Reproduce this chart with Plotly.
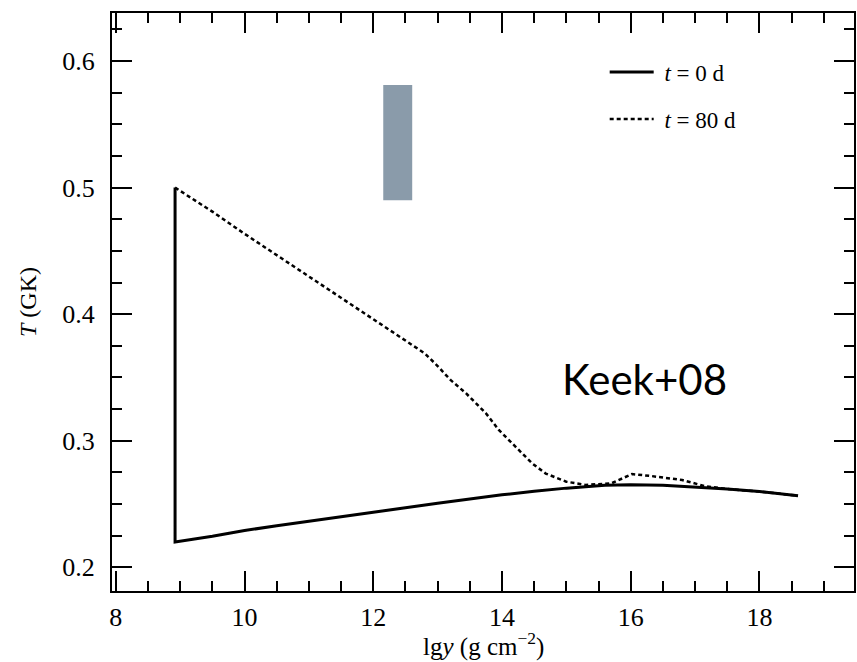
import plotly.graph_objects as go

# t = 0 d profile
x0 = [8.92, 8.92, 9.5, 10.0, 10.5, 11.0, 11.5, 12.0, 12.5, 13.0, 13.5, 14.0, 14.5, 15.0, 15.6, 16.0, 16.5, 17.0, 17.5, 18.0, 18.6]
y0 = [0.500, 0.220, 0.2245, 0.229, 0.2328, 0.2365, 0.2400, 0.2435, 0.2470, 0.2505, 0.2540, 0.2572, 0.2601, 0.2625, 0.2647, 0.2652, 0.2647, 0.2635, 0.2618, 0.2598, 0.2565]

# t = 80 d profile
x80 = [8.92, 9.5, 10.0, 10.5, 11.0, 11.5, 12.0, 12.4, 12.8, 13.0, 13.2, 13.44, 13.75, 13.95, 14.16,
       14.47, 14.68, 15.0, 15.3, 15.7, 16.02, 16.33, 16.8, 17.16, 17.5, 18.0, 18.6]
y80 = [0.500, 0.481, 0.4635, 0.4465, 0.430, 0.413, 0.396, 0.382, 0.369, 0.359, 0.348, 0.3375, 0.3217, 0.3085, 0.298,
       0.282, 0.274, 0.2676, 0.265, 0.2663, 0.2736, 0.272, 0.2689, 0.264, 0.2618, 0.2598, 0.2565]

# shaded box (x range, T range)
box_x = [12.155, 12.605]
box_y = [0.490, 0.581]

labels = ["\u00a0<i>t</i> = 0 d", "\u00a0<i>t</i> = 80 d"]
x_ticks = [8, 10, 12, 14, 16, 18]
y_ticks = [0.2, 0.3, 0.4, 0.5, 0.6]

serif = "Liberation Serif"

fig = go.Figure()
fig.add_trace(go.Scatter(x=x0, y=y0, mode="lines", name=labels[0],
                         line=dict(color="black", width=3), legendgroup="a"))
fig.add_trace(go.Scatter(x=x80, y=y80, mode="lines", name=labels[1],
                         line=dict(color="black", width=2.5, dash="4px,3px"), legendgroup="b"))

fig.add_shape(type="rect", x0=box_x[0], x1=box_x[1], y0=box_y[0], y1=box_y[1],
              xref="x", yref="y", fillcolor="rgb(138,155,170)", line=dict(width=0), layer="above")

fig.add_annotation(x=16.22, y=0.349, xref="x", yref="y", text="Keek+08", showarrow=False,
                   font=dict(family="Lato", size=42, color="black"))

fig.add_annotation(x=0.501, y=-0.093, xref="paper", yref="paper", yanchor="middle",
                   text="lg<i>y</i> (g cm<sup>−2</sup>)", showarrow=False,
                   font=dict(family=serif, size=25, color="black"))

axis_common = dict(
    showline=True, linecolor="black", linewidth=2, mirror="allticks",
    ticks="inside", tickcolor="black", tickwidth=2, ticklen=20,
    showgrid=False, zeroline=False,
    tickfont=dict(family=serif, size=26, color="black"),
)

fig.update_xaxes(range=[7.94, 19.47], tickvals=x_ticks, ticktext=[str(v) for v in x_ticks],
                 minor=dict(ticks="inside", ticklen=10, tickwidth=1.5, tickcolor="black", dtick=0.5, tick0=8),
                 ticklabelstandoff=2,
                 **axis_common)
fig.update_yaxes(range=[0.1812, 0.638], tickvals=y_ticks, ticktext=[f"{v:.1f}" for v in y_ticks],
                 minor=dict(ticks="inside", ticklen=10, tickwidth=1.5, tickcolor="black", dtick=0.025, tick0=0.2),
                 title=dict(text="<i>T</i> (GK)", font=dict(family=serif, size=24, color="black"), standoff=19),
                 ticklabelstandoff=10,
                 **axis_common)

fig.update_layout(
    width=857, height=662,
    margin=dict(l=112, r=1, t=13, b=71),
    plot_bgcolor="white", paper_bgcolor="white",
    showlegend=True,
    legend=dict(x=0.664, y=0.935, xanchor="left", yanchor="top", bgcolor="rgba(0,0,0,0)",
                font=dict(family=serif, size=23, color="black"), tracegroupgap=14,
                itemwidth=44, traceorder="grouped"),
)

fig.write_html("out.html")
